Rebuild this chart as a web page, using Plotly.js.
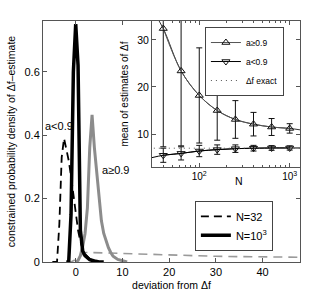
<!DOCTYPE html>
<html>
<head>
<meta charset="utf-8">
<script src="https://cdn.plot.ly/plotly-3.0.1.min.js"></script>
<style>html,body{margin:0;padding:0;background:#fff;}#chart{width:331px;height:296px;}</style>
</head>
<body>
<div id="chart"></div>
<script>
// ---------- main panel: density of the deviation from Δf ----------
const devLow1000 = [-2, -1.5, -1, -0.5, 0, 0.5, 1, 1.5, 2, 2.5, 3, 4, 5, 6];
const densLow1000 = [0, 0, 0.15, 0.6, 0.75, 0.62, 0.1, 0.035, 0.02, 0.012, 0.007, 0.003, 0, 0];

const devLow32 = [-5, -4, -3.5, -3, -2.5, -2, -1.5, -1, -0.5, 0, 0.5, 1, 1.5, 2, 3, 4, 5];
const densLow32 = [0, 0, 0.12, 0.33, 0.39, 0.36, 0.32, 0.27, 0.21, 0.15, 0.1, 0.065, 0.04, 0.025, 0.01, 0.004, 0];

const devHigh1000 = [0, 0.5, 1, 1.5, 2, 2.5, 3, 3.5, 4, 4.5, 5, 5.5, 6, 6.5, 7, 7.5, 8, 9, 10, 11];
const densHigh1000 = [0, 0.005, 0.02, 0.05, 0.09, 0.17, 0.36, 0.464, 0.36, 0.28, 0.2, 0.13, 0.09, 0.065, 0.045, 0.03, 0.018, 0.008, 0.004, 0];

const devHigh32 = [-2, -1, 0, 1, 2, 3, 5, 10, 15, 20, 25, 30, 35, 40, 45, 48];
const densHigh32 = [0, 0, 0.008, 0.02, 0.03, 0.03, 0.029, 0.026, 0.024, 0.022, 0.02, 0.018, 0.017, 0.016, 0.015, 0.015];

const mainXTicks = [0, 10, 20, 30, 40];
const mainYTicks = [0, 0.2, 0.4, 0.6];

// ---------- inset: mean of the estimates of Δf versus N ----------
const sampleN = [40, 63, 100, 158, 251, 398, 631, 1000];
const meanHigh = [32.4, 23.4, 18.2, 15.0, 13.1, 12.1, 11.5, 11.2];
const errHigh = [25.1, 15.9, 10.1, 6.3, 4.0, 2.5, 1.8, 1.0];
const meanLow = [5.5, 5.9, 6.4, 6.7, 6.9, 7.0, 7.05, 7.05];
const errLow = [1.5, 1.4, 1.2, 1.0, 0.8, 0.6, 0.5, 0.45];

const curveN = [30, 40, 63, 100, 158, 251, 398, 631, 1000, 1300];
const curveHigh = [36.5, 32.4, 23.4, 18.2, 15.0, 13.1, 12.1, 11.5, 11.2, 10.9];
const curveLow = [5.0, 5.5, 5.9, 6.4, 6.7, 6.9, 7.0, 7.05, 7.05, 7.05];

const exactN = [10, 10000];
const deltaFExact = [7, 7];

const insetXTicks = [100, 1000];
const insetXTickText = ['10<sup>2</sup>', '10<sup>3</sup>'];
const insetYTicks = [10, 20, 30];

const minorLogTicks = [];
[10, 100, 1000].forEach(d => { for (let k = 2; k <= 9; k++) minorLogTicks.push(d * k); });

const FONT = 'Liberation Sans, Arial, Helvetica, sans-serif';
const AXC = '#555';

const traces = [
  {x: devHigh32, y: densHigh32, xaxis: 'x', yaxis: 'y', mode: 'lines', showlegend: false,
   line: {color: '#9a9a9a', width: 1.6, dash: '9px,6px'}},
  {x: devLow32, y: densLow32, xaxis: 'x', yaxis: 'y', mode: 'lines', name: 'N=32', legend: 'legend',
   line: {color: '#000', width: 1.8, dash: '8px,5px'}},
  {x: devHigh1000, y: densHigh1000, xaxis: 'x', yaxis: 'y', mode: 'lines', showlegend: false,
   line: {color: '#8c8c8c', width: 3}},
  {x: devLow1000, y: densLow1000, xaxis: 'x', yaxis: 'y', mode: 'lines', name: 'N=10<sup>3</sup>', legend: 'legend',
   line: {color: '#000', width: 3.5}},

  // inset
  {x: curveN, y: curveHigh, xaxis: 'x2', yaxis: 'y2', mode: 'lines', showlegend: false,
   line: {color: '#333', width: 1, shape: 'spline'}},
  {x: curveN, y: curveLow, xaxis: 'x2', yaxis: 'y2', mode: 'lines', showlegend: false,
   line: {color: '#000', width: 1, shape: 'spline'}},
  {x: sampleN, y: meanHigh, xaxis: 'x2', yaxis: 'y2', mode: 'lines+markers', name: 'a≥0.9', legend: 'legend2',
   line: {color: '#555', width: 1, shape: 'spline'},
   marker: {symbol: 'triangle-up-open', size: 7, color: '#111', line: {width: 1}},
   error_y: {type: 'data', array: errHigh, visible: true, color: '#111', thickness: 1, width: 3}},
  {x: sampleN, y: meanLow, xaxis: 'x2', yaxis: 'y2', mode: 'lines+markers', name: 'a<0.9', legend: 'legend2',
   line: {color: '#000', width: 1, shape: 'spline'},
   marker: {symbol: 'triangle-down-open', size: 7, color: '#111', line: {width: 1}},
   error_y: {type: 'data', array: errLow, visible: true, color: '#111', thickness: 1, width: 3}},
  {x: exactN, y: deltaFExact, xaxis: 'x2', yaxis: 'y2', mode: 'lines', name: 'Δf exact', legend: 'legend2',
   line: {color: '#555', width: 1, dash: '1px,4px'}}
];

const layout = {
  width: 331, height: 296,
  margin: {l: 43, r: 31, t: 21, b: 34, pad: 0},
  paper_bgcolor: '#fff', plot_bgcolor: '#fff',
  font: {family: FONT, size: 11, color: '#000'},
  xaxis: {domain: [0, 1], anchor: 'y', range: [-7, 48], tickvals: mainXTicks,
    ticks: 'inside', ticklen: 4, tickcolor: AXC, showline: true, linecolor: AXC, linewidth: 1,
    mirror: 'ticks', showgrid: false, zeroline: false, tickfont: {size: 11},
    title: {text: 'deviation from Δf', font: {size: 10.5}, standoff: 4}},
  yaxis: {domain: [0, 1], anchor: 'x', range: [0, 0.76], tickvals: mainYTicks,
    ticks: 'inside', ticklen: 4, tickcolor: AXC, showline: true, linecolor: AXC, linewidth: 1,
    mirror: 'ticks', showgrid: false, zeroline: false, tickfont: {size: 11},
    title: {text: 'constrained probability density of Δf–estimate', font: {size: 10.5}, standoff: 6}},
  xaxis2: {domain: [0.424, 1], anchor: 'y2', type: 'log', range: [Math.log10(30), Math.log10(1300)],
    tickvals: insetXTicks, ticktext: insetXTickText,
    ticks: 'inside', ticklen: 4, tickcolor: AXC, showline: true, linecolor: AXC, linewidth: 1,
    mirror: 'ticks', showgrid: false, zeroline: false, tickfont: {size: 10},
    minor: {tickvals: minorLogTicks, ticks: 'inside', ticklen: 2, tickcolor: AXC, showgrid: false}},
  yaxis2: {domain: [0.394, 1], anchor: 'x2', range: [3, 34], tickvals: insetYTicks,
    ticks: 'inside', ticklen: 4, tickcolor: AXC, showline: true, linecolor: AXC, linewidth: 1,
    mirror: 'ticks', showgrid: false, zeroline: false, tickfont: {size: 10.5},
    title: {text: 'mean of estimates of Δf', font: {size: 10}, standoff: 6}},
  legend: {x: 0.591, y: 0.254, xanchor: 'left', yanchor: 'top', bgcolor: '#fff',
    bordercolor: '#444', borderwidth: 1, font: {size: 11}, tracegroupgap: 0, itemwidth: 30},
  legend2: {x: 0.63, y: 0.975, xanchor: 'left', yanchor: 'top', bgcolor: '#fff',
    bordercolor: '#444', borderwidth: 1, font: {size: 8.5}, tracegroupgap: 0, itemwidth: 30},
  annotations: [
    {text: 'a<0.9', x: -6.9, y: 0.43, xref: 'x', yref: 'y', xanchor: 'left', yanchor: 'middle',
     showarrow: false, font: {size: 11}},
    {text: 'a≥0.9', x: 8.6, y: 0.29, xref: 'x', yref: 'y', xanchor: 'center', yanchor: 'middle',
     showarrow: false, font: {size: 11}},
    {text: 'N', x: 0.588, y: -0.096, xref: 'x2 domain', yref: 'y2 domain', xanchor: 'center', yanchor: 'middle',
     showarrow: false, font: {size: 10.5}}
  ]
};

Plotly.newPlot('chart', traces, layout, {staticPlot: true, displayModeBar: false});
</script>
</body>
</html>
